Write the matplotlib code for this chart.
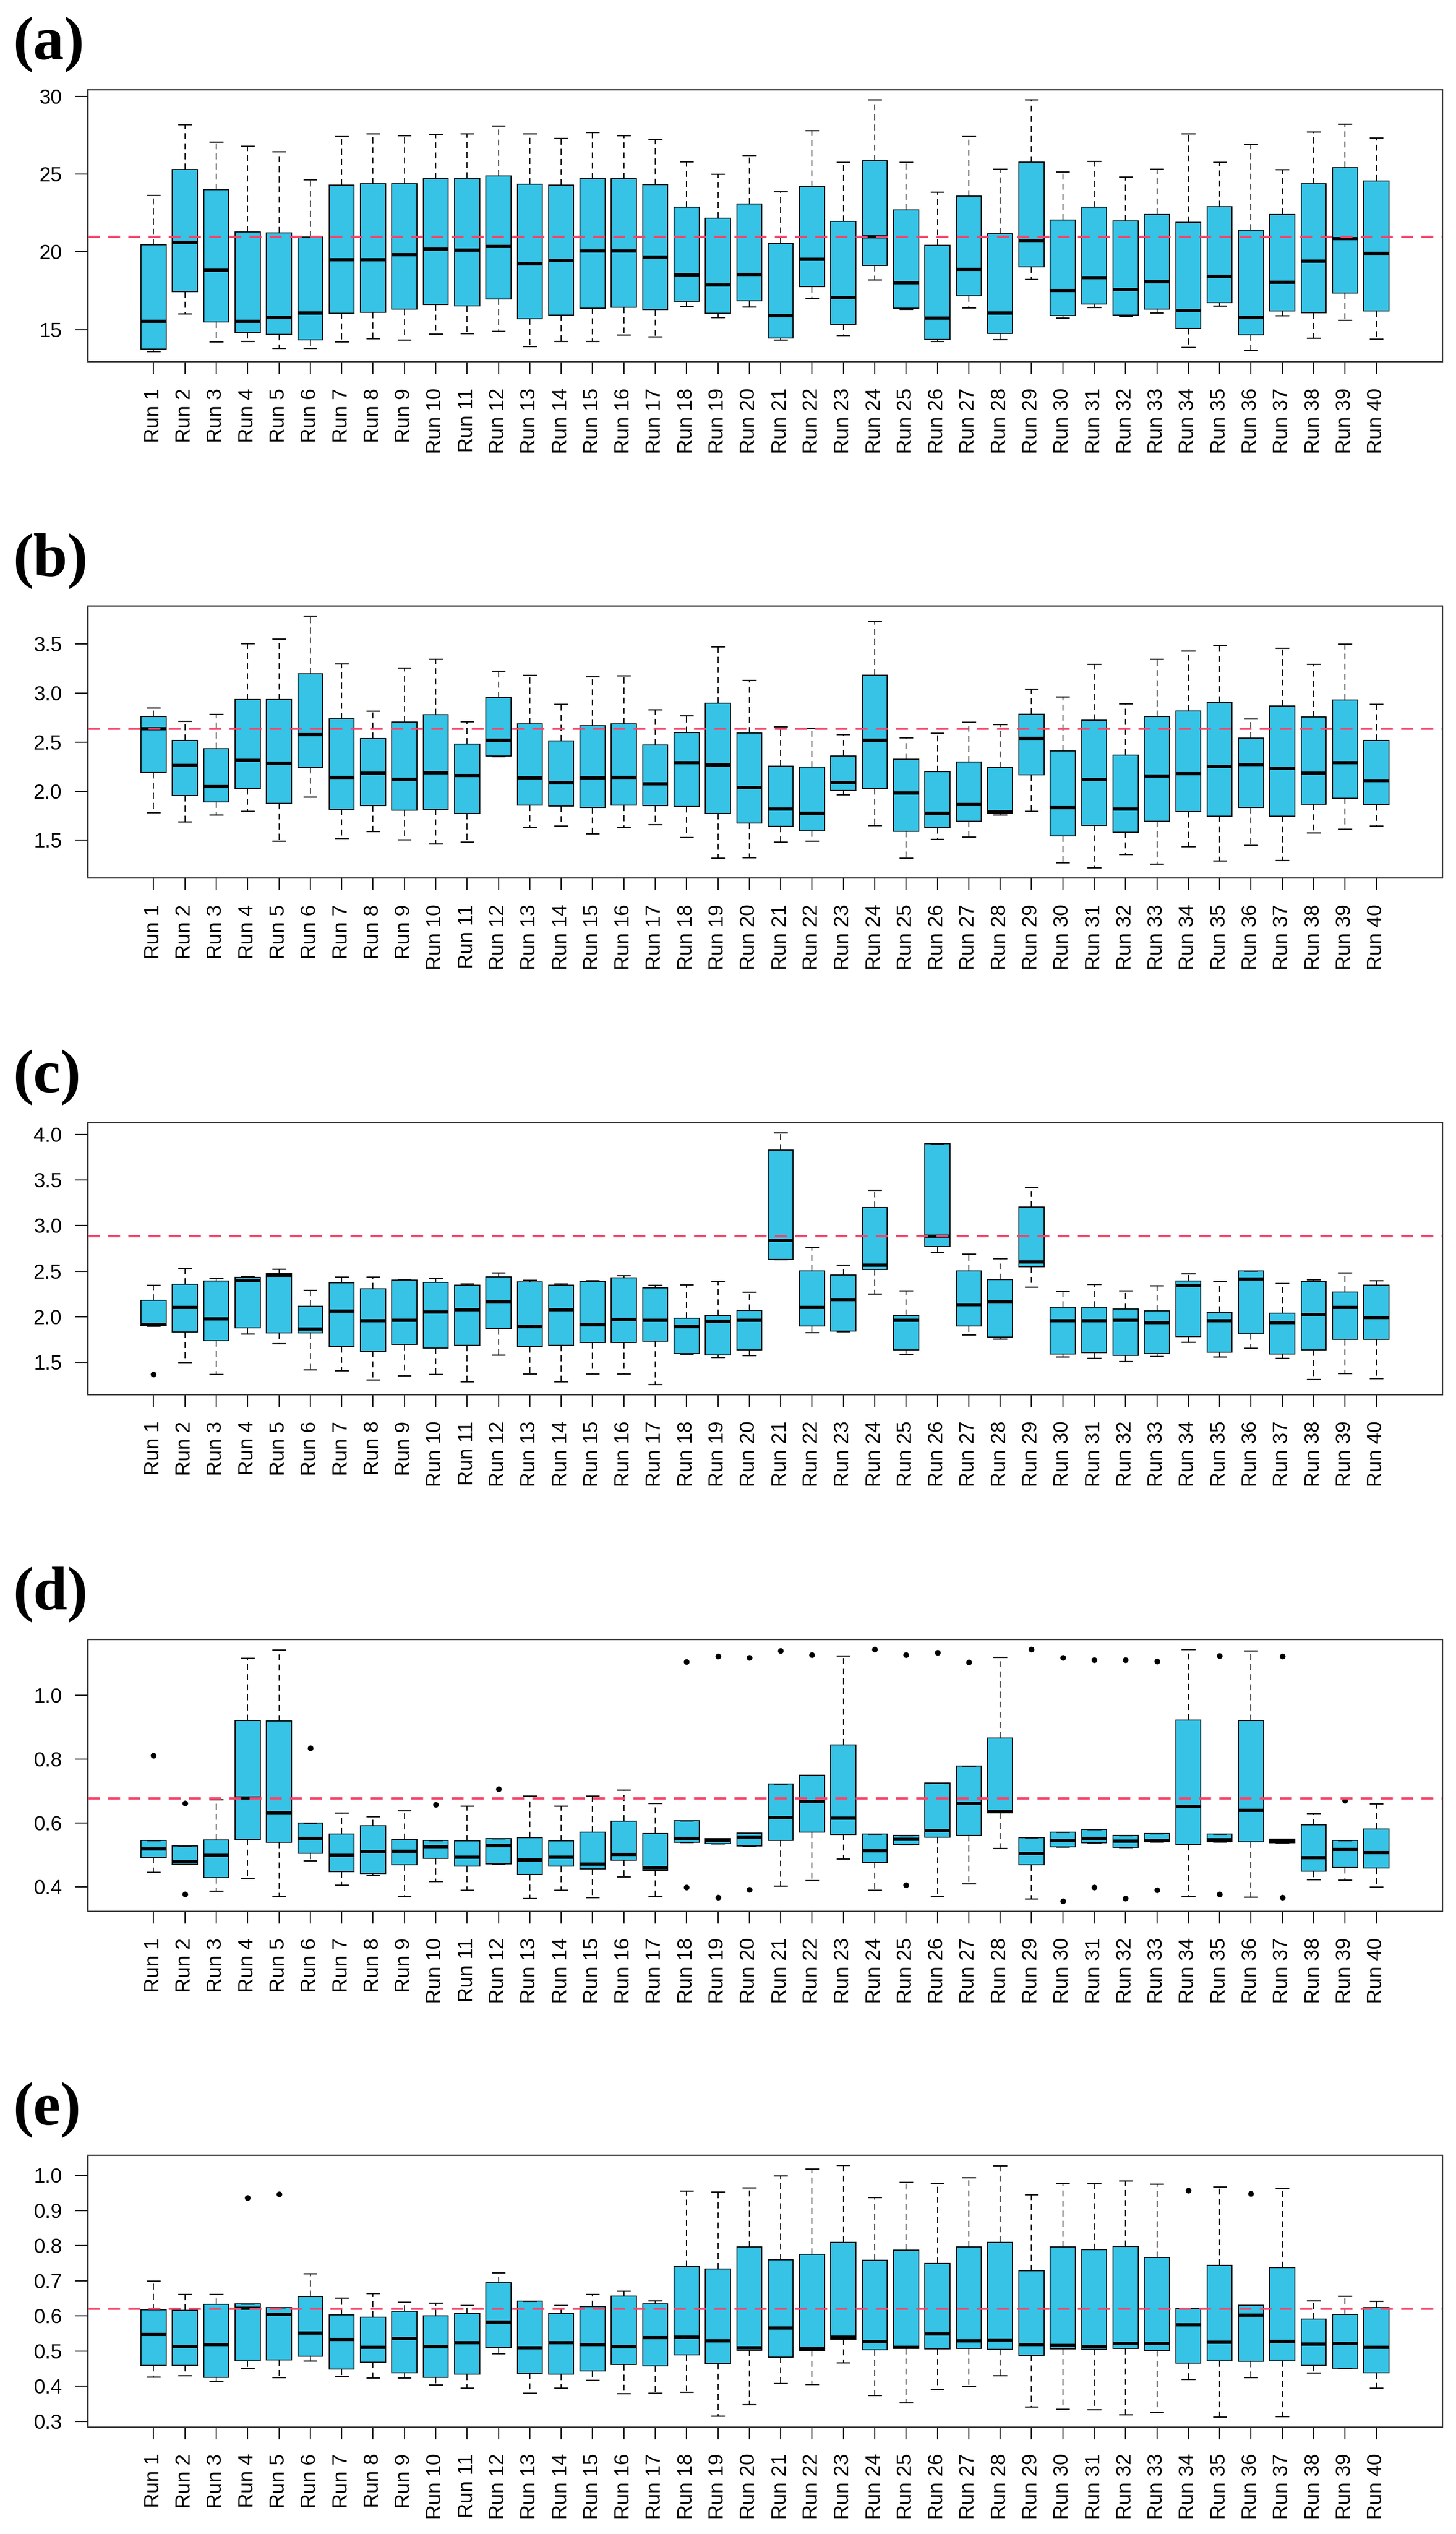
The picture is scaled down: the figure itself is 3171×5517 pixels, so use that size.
import matplotlib
matplotlib.use("Agg")
import matplotlib.pyplot as plt
import numpy as np

plt.rcParams['font.family'] = ['Liberation Sans', 'DejaVu Sans']
plt.rcParams['lines.scale_dashes'] = False

RUNS = [f"Run {i}" for i in range(1, 41)]

# ---------------- panel (a) ----------------
A_HI = [23.64, 28.19, 27.08, 26.81, 26.44, 24.64, 27.43, 27.61, 27.48, 27.56, 27.61, 28.11, 27.61, 27.32, 27.70, 27.49, 27.24, 25.80, 24.99, 26.20,
        23.89, 27.82, 25.77, 29.79, 25.77, 23.85, 27.43, 25.33, 29.79, 25.15, 25.83, 24.82, 25.32, 27.59, 25.78, 26.93, 25.29, 27.73, 28.21, 27.34]
A_Q3 = [20.44, 25.29, 24.00, 21.27, 21.23, 20.96, 24.30, 24.39, 24.37, 24.71, 24.75, 24.88, 24.35, 24.30, 24.70, 24.70, 24.31, 22.88, 22.18, 23.09,
        20.54, 24.20, 21.95, 25.86, 22.69, 20.42, 23.60, 21.16, 25.77, 22.06, 22.87, 22.00, 22.41, 21.91, 22.92, 21.39, 22.40, 24.37, 25.41, 24.56]
A_MED = [15.55, 20.62, 18.84, 15.55, 15.80, 16.08, 19.51, 19.51, 19.82, 20.20, 20.13, 20.36, 19.25, 19.45, 20.08, 20.07, 19.70, 18.52, 17.88, 18.55,
         15.90, 19.53, 17.08, 20.98, 18.02, 15.75, 18.88, 16.07, 20.76, 17.52, 18.35, 17.60, 18.09, 16.23, 18.46, 15.78, 18.05, 19.41, 20.88, 19.91]
A_Q1 = [13.75, 17.44, 15.49, 14.80, 14.70, 14.33, 16.06, 16.11, 16.32, 16.61, 16.54, 16.97, 15.69, 15.95, 16.37, 16.45, 16.29, 16.83, 16.06, 16.85,
        14.46, 17.77, 15.34, 19.13, 16.37, 14.37, 17.19, 14.74, 19.04, 15.92, 16.65, 15.94, 16.33, 15.07, 16.73, 14.66, 16.21, 16.09, 17.35, 16.19]
A_LO = [13.60, 16.02, 14.21, 14.24, 13.81, 13.81, 14.21, 14.43, 14.33, 14.72, 14.76, 14.89, 13.92, 14.26, 14.26, 14.66, 14.56, 16.50, 15.78, 16.48,
        14.33, 17.03, 14.65, 18.21, 16.32, 14.26, 16.41, 14.37, 18.23, 15.75, 16.45, 15.87, 16.08, 13.87, 16.52, 13.67, 15.92, 14.46, 15.61, 14.39]
A_OUT = {}
A_REF = 21.0
A_TICKS = [15, 20, 25, 30]
A_TICKLABELS = ["15", "20", "25", "30"]

# ---------------- panel (b) ----------------
B_HI = [2.849, 2.717, 2.786, 3.508, 3.554, 3.788, 3.302, 2.819, 3.256, 3.348, 2.711, 3.224, 3.181, 2.890, 3.170, 3.178, 2.832, 2.769, 3.473, 3.130,
        2.657, 2.646, 2.581, 3.730, 2.548, 2.592, 2.707, 2.680, 3.041, 2.961, 3.295, 2.893, 3.346, 3.431, 3.487, 2.740, 3.458, 3.297, 3.504, 2.888]
B_Q3 = [2.763, 2.517, 2.433, 2.936, 2.934, 3.197, 2.736, 2.538, 2.707, 2.782, 2.481, 2.953, 2.688, 2.513, 2.667, 2.688, 2.469, 2.600, 2.899, 2.592,
        2.254, 2.247, 2.358, 3.185, 2.325, 2.199, 2.296, 2.243, 2.786, 2.408, 2.725, 2.367, 2.763, 2.817, 2.905, 2.540, 2.870, 2.755, 2.930, 2.519]
B_MED = [2.638, 2.266, 2.049, 2.318, 2.289, 2.581, 2.141, 2.187, 2.124, 2.191, 2.160, 2.525, 2.139, 2.087, 2.137, 2.141, 2.076, 2.293, 2.272, 2.041,
         1.819, 1.778, 2.091, 2.525, 1.982, 1.776, 1.867, 1.792, 2.540, 1.836, 2.120, 1.822, 2.158, 2.179, 2.258, 2.275, 2.235, 2.187, 2.295, 2.110]
B_Q1 = [2.191, 1.955, 1.888, 2.028, 1.878, 2.243, 1.817, 1.851, 1.805, 1.815, 1.773, 2.360, 1.859, 1.847, 1.834, 1.859, 1.853, 1.842, 1.773, 1.673,
        1.640, 1.594, 2.007, 2.028, 1.592, 1.627, 1.692, 1.771, 2.166, 1.542, 1.650, 1.581, 1.692, 1.794, 1.746, 1.834, 1.746, 1.867, 1.930, 1.861]
B_LO = [1.782, 1.688, 1.761, 1.796, 1.490, 1.940, 1.521, 1.592, 1.506, 1.464, 1.481, 2.356, 1.631, 1.646, 1.567, 1.631, 1.659, 1.531, 1.318, 1.325,
        1.483, 1.490, 1.966, 1.650, 1.318, 1.510, 1.533, 1.761, 1.796, 1.270, 1.220, 1.358, 1.256, 1.437, 1.291, 1.452, 1.295, 1.575, 1.615, 1.648]
B_OUT = {}
B_REF = 2.64
B_TICKS = [1.5, 2.0, 2.5, 3.0, 3.5]
B_TICKLABELS = ["1.5", "2.0", "2.5", "3.0", "3.5"]

# ---------------- panel (c) ----------------
C_HI = [2.348, 2.535, 2.425, 2.441, 2.521, 2.290, 2.438, 2.438, 2.409, 2.422, 2.362, 2.483, 2.402, 2.362, 2.395, 2.451, 2.346, 2.350, 2.389, 2.272,
        4.018, 2.759, 2.570, 3.390, 2.288, 3.895, 2.687, 2.640, 3.419, 2.283, 2.355, 2.288, 2.344, 2.474, 2.389, 2.503, 2.369, 2.407, 2.483, 2.398]
C_Q3 = [2.180, 2.357, 2.391, 2.431, 2.474, 2.117, 2.373, 2.306, 2.402, 2.377, 2.348, 2.436, 2.384, 2.348, 2.389, 2.427, 2.317, 1.987, 2.016, 2.068,
        3.825, 2.505, 2.458, 3.199, 2.014, 3.895, 2.505, 2.407, 3.203, 2.106, 2.106, 2.086, 2.063, 2.391, 2.052, 2.503, 2.041, 2.389, 2.274, 2.346]
C_MED = [1.917, 2.108, 1.982, 2.402, 2.456, 1.868, 2.066, 1.960, 1.965, 2.057, 2.081, 2.171, 1.895, 2.081, 1.913, 1.976, 1.967, 1.895, 1.953, 1.965,
         2.840, 2.106, 2.191, 2.570, 1.967, 2.885, 2.137, 2.169, 2.604, 1.958, 1.958, 1.965, 1.942, 2.346, 1.958, 2.418, 1.942, 2.025, 2.106, 1.996]
C_Q1 = [1.902, 1.834, 1.738, 1.877, 1.823, 1.823, 1.673, 1.623, 1.700, 1.659, 1.688, 1.868, 1.671, 1.688, 1.720, 1.718, 1.731, 1.599, 1.581, 1.639,
        2.631, 1.897, 1.846, 2.519, 1.637, 2.768, 1.897, 1.778, 2.548, 1.590, 1.608, 1.576, 1.599, 1.783, 1.612, 1.812, 1.592, 1.639, 1.751, 1.751]
C_LO = [1.900, 1.504, 1.370, 1.812, 1.706, 1.419, 1.410, 1.309, 1.354, 1.370, 1.289, 1.583, 1.374, 1.289, 1.377, 1.377, 1.260, 1.594, 1.558, 1.576,
        2.630, 1.830, 1.841, 2.250, 1.587, 2.707, 1.803, 1.756, 2.328, 1.563, 1.549, 1.513, 1.567, 1.722, 1.560, 1.657, 1.549, 1.318, 1.383, 1.327]
C_OUT = {1: [1.370]}
C_REF = 2.885
C_TICKS = [1.5, 2.0, 2.5, 3.0, 3.5, 4.0]
C_TICKLABELS = ["1.5", "2.0", "2.5", "3.0", "3.5", "4.0"]

# ---------------- panel (d) ----------------
D_HI = [0.545, 0.529, 0.674, 1.115, 1.142, 0.600, 0.632, 0.620, 0.639, 0.545, 0.654, 0.551, 0.685, 0.654, 0.685, 0.703, 0.662, 0.607, 0.551, 0.569,
        0.722, 0.750, 1.123, 0.566, 0.562, 0.725, 0.778, 1.118, 0.554, 0.571, 0.580, 0.561, 0.567, 1.143, 0.566, 1.138, 0.550, 0.631, 0.545, 0.661]
D_Q3 = [0.545, 0.529, 0.547, 0.920, 0.919, 0.600, 0.566, 0.592, 0.548, 0.545, 0.544, 0.551, 0.554, 0.544, 0.572, 0.606, 0.567, 0.607, 0.551, 0.569,
        0.722, 0.750, 0.844, 0.566, 0.562, 0.725, 0.778, 0.866, 0.554, 0.571, 0.580, 0.561, 0.567, 0.922, 0.566, 0.921, 0.550, 0.595, 0.545, 0.581]
D_MED = [0.520, 0.479, 0.499, 0.679, 0.633, 0.553, 0.499, 0.511, 0.512, 0.527, 0.494, 0.530, 0.485, 0.494, 0.472, 0.502, 0.461, 0.553, 0.545, 0.557,
         0.618, 0.668, 0.616, 0.514, 0.550, 0.577, 0.662, 0.637, 0.506, 0.545, 0.553, 0.544, 0.545, 0.652, 0.549, 0.641, 0.545, 0.492, 0.518, 0.508]
D_Q1 = [0.493, 0.471, 0.429, 0.548, 0.540, 0.505, 0.448, 0.442, 0.469, 0.490, 0.465, 0.472, 0.439, 0.465, 0.456, 0.484, 0.452, 0.540, 0.535, 0.529,
        0.546, 0.572, 0.565, 0.476, 0.533, 0.555, 0.561, 0.632, 0.469, 0.525, 0.538, 0.524, 0.541, 0.532, 0.542, 0.541, 0.539, 0.450, 0.461, 0.459]
D_LO = [0.446, 0.471, 0.387, 0.428, 0.370, 0.482, 0.406, 0.436, 0.371, 0.418, 0.391, 0.472, 0.365, 0.391, 0.367, 0.432, 0.370, 0.540, 0.535, 0.529,
        0.403, 0.420, 0.488, 0.390, 0.533, 0.372, 0.411, 0.521, 0.363, 0.525, 0.538, 0.524, 0.541, 0.371, 0.542, 0.369, 0.539, 0.424, 0.422, 0.401]
D_OUT = {1: [0.811], 2: [0.662, 0.378], 6: [0.834], 10: [0.658], 12: [0.707],
         18: [1.104, 0.399], 19: [1.121, 0.367], 20: [1.117, 0.392], 21: [1.138], 22: [1.126],
         24: [1.143], 25: [1.126, 0.407], 26: [1.133], 27: [1.102], 29: [1.143],
         30: [1.117, 0.356], 31: [1.110, 0.399], 32: [1.110, 0.365], 33: [1.106, 0.390],
         35: [1.123, 0.378], 37: [1.122, 0.368], 39: [0.670]}
D_REF = 0.678
D_TICKS = [0.4, 0.6, 0.8, 1.0]
D_TICKLABELS = ["0.4", "0.6", "0.8", "1.0"]

# ---------------- panel (e) ----------------
E_HI = [0.700, 0.662, 0.662, 0.634, 0.624, 0.720, 0.651, 0.665, 0.640, 0.637, 0.630, 0.723, 0.642, 0.630, 0.662, 0.671, 0.643, 0.956, 0.953, 0.965,
        0.999, 1.019, 1.029, 0.938, 0.980, 0.978, 0.993, 1.028, 0.945, 0.978, 0.977, 0.984, 0.976, 0.622, 0.968, 0.631, 0.964, 0.643, 0.656, 0.642]
E_Q3 = [0.617, 0.616, 0.633, 0.634, 0.624, 0.655, 0.603, 0.597, 0.613, 0.601, 0.607, 0.695, 0.642, 0.607, 0.627, 0.656, 0.634, 0.742, 0.734, 0.796,
        0.760, 0.775, 0.809, 0.758, 0.787, 0.749, 0.796, 0.810, 0.729, 0.797, 0.788, 0.798, 0.767, 0.622, 0.744, 0.631, 0.738, 0.591, 0.605, 0.624]
E_MED = [0.548, 0.514, 0.519, 0.623, 0.606, 0.552, 0.534, 0.512, 0.537, 0.513, 0.525, 0.584, 0.510, 0.525, 0.520, 0.513, 0.539, 0.540, 0.530, 0.510,
         0.567, 0.508, 0.541, 0.527, 0.512, 0.550, 0.530, 0.532, 0.519, 0.517, 0.513, 0.522, 0.522, 0.576, 0.526, 0.603, 0.528, 0.521, 0.522, 0.512]
E_Q1 = [0.460, 0.459, 0.425, 0.472, 0.475, 0.486, 0.449, 0.469, 0.439, 0.425, 0.435, 0.510, 0.437, 0.435, 0.444, 0.462, 0.458, 0.489, 0.465, 0.503,
        0.483, 0.501, 0.534, 0.504, 0.508, 0.506, 0.508, 0.505, 0.488, 0.506, 0.505, 0.508, 0.501, 0.466, 0.473, 0.471, 0.472, 0.460, 0.452, 0.438]
E_LO = [0.427, 0.431, 0.415, 0.451, 0.426, 0.472, 0.428, 0.424, 0.424, 0.405, 0.395, 0.493, 0.381, 0.395, 0.417, 0.380, 0.381, 0.384, 0.316, 0.349,
        0.408, 0.406, 0.467, 0.375, 0.353, 0.392, 0.400, 0.431, 0.342, 0.335, 0.334, 0.319, 0.326, 0.420, 0.313, 0.426, 0.315, 0.438, 0.451, 0.395]
E_OUT = {4: [0.936], 5: [0.946], 34: [0.957], 36: [0.948]}
E_REF = 0.622
E_TICKS = [0.3, 0.4, 0.5, 0.6, 0.7, 0.8, 0.9, 1.0]
E_TICKLABELS = ["0.3", "0.4", "0.5", "0.6", "0.7", "0.8", "0.9", "1.0"]

PANELS = [
    ("(a)", A_LO, A_Q1, A_MED, A_Q3, A_HI, A_OUT, A_REF, A_TICKS, A_TICKLABELS),
    ("(b)", B_LO, B_Q1, B_MED, B_Q3, B_HI, B_OUT, B_REF, B_TICKS, B_TICKLABELS),
    ("(c)", C_LO, C_Q1, C_MED, C_Q3, C_HI, C_OUT, C_REF, C_TICKS, C_TICKLABELS),
    ("(d)", D_LO, D_Q1, D_MED, D_Q3, D_HI, D_OUT, D_REF, D_TICKS, D_TICKLABELS),
    ("(e)", E_LO, E_Q1, E_MED, E_Q3, E_HI, E_OUT, E_REF, E_TICKS, E_TICKLABELS),
]

# ---------------- layout (pixels) ----------------
W, H = 3171, 5517
DPI = 100
AX_LEFT, AX_RIGHT = 191, 3141
AX_TOPS = [195, 1319, 2444, 3569, 4692]
AX_H = 592

BOX_COLOR = "#36C3E6"
REF_COLOR = "#F7456A"
PX = 72.0 / DPI  # points per pixel

fig = plt.figure(figsize=(W / DPI, H / DPI), dpi=DPI)

for (label, lo, q1, med, q3, hi, out, ref, ticks, ticklabels), top in zip(PANELS, AX_TOPS):
    ax = fig.add_axes([AX_LEFT / W, 1 - (top + AX_H) / H, (AX_RIGHT - AX_LEFT) / W, AX_H / H])
    stats = []
    for i in range(40):
        stats.append(dict(whislo=lo[i], q1=q1[i], med=med[i], q3=q3[i], whishi=hi[i],
                          fliers=out.get(i + 1, [])))
    ax.bxp(stats, positions=np.arange(1, 41), widths=0.8, patch_artist=True,
           showfliers=True,
           boxprops=dict(facecolor=BOX_COLOR, edgecolor="black", linewidth=2.2 * PX),
           medianprops=dict(color="black", linewidth=7 * PX, solid_capstyle="butt"),
           whiskerprops=dict(color="black", linewidth=2.2 * PX, linestyle=(0, (13 * PX, 9 * PX))),
           capprops=dict(color="black", linewidth=2.6 * PX),
           flierprops=dict(marker="o", markerfacecolor="black", markeredgecolor="black",
                           markersize=11 * PX, linestyle="none"))
    ax.axhline(ref, color=REF_COLOR, linewidth=5 * PX, linestyle=(0, (26 * PX, 18 * PX)), zorder=5)

    allv = list(lo) + list(hi) + [v for vs in out.values() for v in vs]
    vmin, vmax = min(allv), max(allv)
    r = vmax - vmin
    ax.set_ylim(vmin - 0.04 * r, vmax + 0.04 * r)
    ax.set_xlim(1 - 2.1, 40 + 2.1)

    ax.set_xticks(np.arange(1, 41))
    ax.set_xticklabels(RUNS, rotation=90, fontsize=32)
    ax.set_yticks(ticks)
    ax.set_yticklabels(ticklabels, fontsize=32)
    ax.tick_params(axis="x", length=27 * PX, width=2.4 * PX, pad=31 * PX, colors="black")
    ax.tick_params(axis="y", length=28 * PX, width=2.4 * PX, pad=28 * PX, colors="black")
    for side, sp in ax.spines.items():
        sp.set_linewidth(3 * PX)
        sp.set_color("#3c3c3c")
    ax.spines["left"].set_color("#111111")

    fig.text(28 / W, 1 - (top - 37) / H, label, fontsize=96, fontweight="bold",
             family=["Liberation Serif", "DejaVu Serif"], ha="left", va="bottom")

fig.savefig("out.png", dpi=DPI)
